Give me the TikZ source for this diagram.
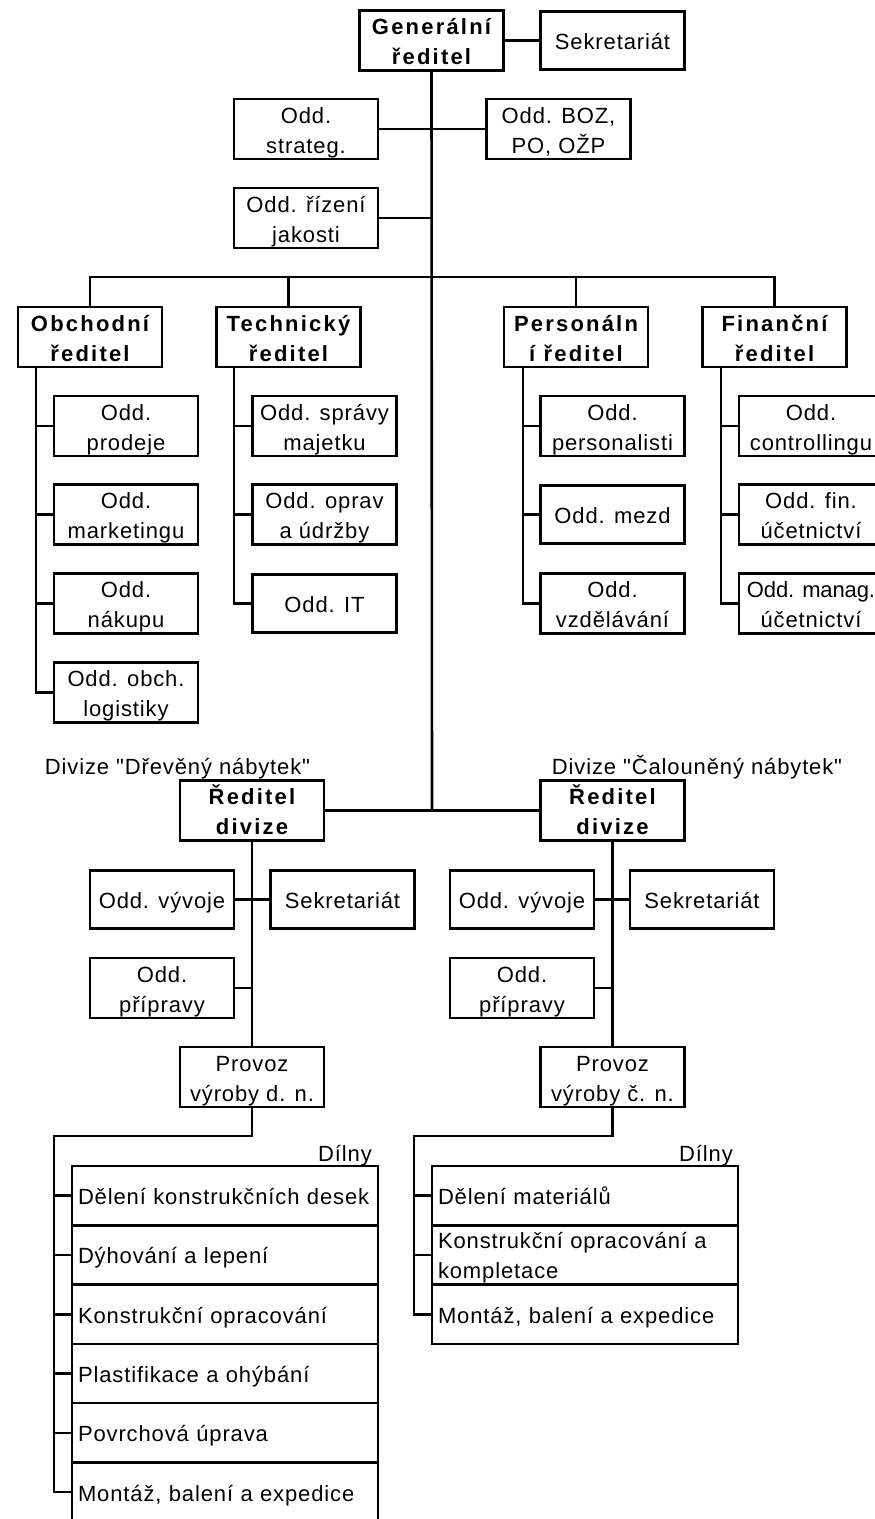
\documentclass[tikz,border=0pt]{standalone}
\usepackage{fontspec}
\setmainfont[LetterSpace=4,Ligatures=TeXOff]{Liberation Sans}
\newfontfamily\bfnt[LetterSpace=10,Ligatures=TeXOff]{Liberation Sans}
\newfontfamily\tightfnt[LetterSpace=-0.5,Ligatures=TeXOff]{Liberation Sans}
\newcommand\st{\rule[-6pt]{0pt}{30pt}}
\newcommand\two[2]{\st #1\\\st #2}
\newcommand\one[1]{\st #1}
\begin{document}
\begin{tikzpicture}[x=1pt,y=-1pt,
  every node/.style={font=\fontsize{22}{30}\selectfont},
  box/.style={draw, line width=2.6pt, inner sep=0pt, align=center,
    minimum width=144, minimum height=58},
  bbox/.style={box, font=\fontsize{22}{30}\selectfont\bfnt\bfseries},
  wbox/.style={draw, line width=2.6pt, inner sep=0pt, align=left,
    minimum width=306, minimum height=59.3, text width=294},
  conn/.style={line width=2.6pt},
  lbl/.style={inner sep=0pt, anchor=base}]
\useasboundingbox (0,0) rectangle (875,1519);
\clip (0,0) rectangle (875,1519);

% top level
\node[bbox] (gr) at (431.5,40.5) {\two{Generální}{ředitel}};
\node[box] (sek) at (612.5,40.5) {\one{Sekretariát}};
\node[box] (strat) at (306,129) {\two{Odd.}{strateg.}};
\node[box] (boz) at (558.5,129) {\two{Odd. BOZ,}{PO, OŽP}};
\node[box] (jak) at (306,218) {\two{Odd. řízení}{jakosti}};

% directors
\node[bbox] (obch) at (90,337) {\two{Obchodní}{ředitel}};
\node[bbox] (tech) at (288.5,337) {\two{Technický}{ředitel}};
\node[bbox] (pers) at (576,337) {\two{Personáln}{í ředitel}};
\node[bbox] (fin) at (774.5,337) {\two{Finanční}{ředitel}};

% departments
\node[box] (o1) at (126,426) {\two{Odd.}{prodeje}};
\node[box] (o2) at (126,514.5) {\two{Odd.}{marketingu}};
\node[box] (o3) at (126,603.5) {\two{Odd.}{nákupu}};
\node[box] (o4) at (126,692.5) {\two{Odd. obch.}{logistiky}};
\node[box] (t1) at (324.5,426) {\two{Odd. správy}{majetku}};
\node[box] (t2) at (324.5,514.5) {\two{Odd. oprav}{a údržby}};
\node[box] (t3) at (324.5,603.5) {\one{Odd. IT}};
\node[box] (p1) at (612.5,426) {\two{Odd.}{personalisti}};
\node[box] (p2) at (612.5,514.5) {\one{Odd. mezd}};
\node[box] (p3) at (612.5,603.5) {\two{Odd.}{vzdělávání}};
\node[box] (f1) at (811,426) {\two{Odd.}{controllingu}};
\node[box] (f2) at (811,514.5) {\two{Odd. fin.}{účetnictví}};
\node[box] (f3) at (811,603.5) {\tightfnt\two{Odd. manag.}{účetnictví}};

% divisions
\node[lbl] (ldl) at (177.5,774) {Divize "Dřevěný nábytek"};
\node[lbl] (ldr) at (697,774) {Divize "Čalouněný nábytek"};
\node[bbox] (divL) at (252,810.5) {\two{Ředitel}{divize}};
\node[bbox] (divR) at (612.5,810.5) {\two{Ředitel}{divize}};
\node[box] (vyvL) at (162,899.5) {\one{Odd. vývoje}};
\node[box] (sekL) at (342.5,899.5) {\one{Sekretariát}};
\node[box] (pripL) at (162,988) {\two{Odd.}{přípravy}};
\node[box] (provL) at (252,1077) {\two{Provoz}{výroby d. n.}};
\node[box] (vyvR) at (522,899.5) {\one{Odd. vývoje}};
\node[box] (sekR) at (702,899.5) {\one{Sekretariát}};
\node[box] (pripR) at (522,988) {\two{Odd.}{přípravy}};
\node[box] (provR) at (612.5,1077) {\two{Provoz}{výroby č. n.}};

% workshops
\node[lbl, anchor=base east] (dl) at (372,1161) {Dílny};
\node[lbl, anchor=base east] (dr) at (733,1161) {Dílny};
\node[wbox] (w1) at (225,1195.6) {\one{Dělení konstrukčních desek}};
\node[wbox] (w2) at (225,1254.9) {\one{Dýhování a lepení}};
\node[wbox] (w3) at (225,1314.2) {\one{Konstrukční opracování}};
\node[wbox] (w4) at (225,1373.5) {\one{Plastifikace a ohýbání}};
\node[wbox] (w5) at (225,1432.8) {\one{Povrchová úprava}};
\node[wbox] (w6) at (225,1492.1) {\one{Montáž, balení a expedice}};
\node[wbox] (v1) at (585,1195.6) {\one{Dělení materiálů}};
\node[wbox] (v2) at (585,1254.9) {\two{Konstrukční opracování a}{kompletace}};
\node[wbox] (v3) at (585,1314.2) {\one{Montáž, balení a expedice}};

% connectors top
\coordinate (j) at (432,810);
\coordinate (bus) at (432,277);
\draw[conn] (gr.south) -- (j);
\draw[conn] (gr.east) -- (sek.west);
\draw[conn] (strat.east) -- (boz.west);
\draw[conn] (jak.east) -- (jak.east -| j);
\draw[conn] (obch.north) |- (bus) -| (fin.north);
\draw[conn] (tech.north) -- (tech.north |- bus);
\draw[conn] (pers.north) -- (pers.north |- bus);

% director subtrees
\coordinate (ot) at (36,367);
\draw[conn] (ot) |- (o4.west);
\foreach \n in {o1,o2,o3} \draw[conn] (\n.west) -- (\n.west -| ot);
\coordinate (tt) at (234,367);
\draw[conn] (tt) |- (t3.west);
\foreach \n in {t1,t2} \draw[conn] (\n.west) -- (\n.west -| tt);
\coordinate (pt) at (523,367);
\draw[conn] (pt) |- (p3.west);
\foreach \n in {p1,p2} \draw[conn] (\n.west) -- (\n.west -| pt);
\coordinate (ft) at (721,367);
\draw[conn] (ft) |- (f3.west);
\foreach \n in {f1,f2} \draw[conn] (\n.west) -- (\n.west -| ft);

% divisions connectors
\draw[conn] (divL.east) -- (divR.west);
\draw[conn] (divL.south) -- (provL.north);
\draw[conn] (vyvL.east) -- (sekL.west);
\draw[conn] (pripL.east) -- (pripL.east -| divL.south);
\draw[conn] (divR.south) -- (provR.north);
\draw[conn] (vyvR.east) -- (sekR.west);
\draw[conn] (pripR.east) -- (pripR.east -| divR.south);

% workshop connectors
\coordinate (lt) at (54,1136);
\draw[conn] (provL.south) |- (lt) |- (w6.west);
\foreach \n in {w1,w2,w3,w4,w5} \draw[conn] (\n.west) -- (\n.west -| lt);
\coordinate (rt) at (414,1136);
\draw[conn] (provR.south) |- (rt) |- (v3.west);
\foreach \n in {v1,v2} \draw[conn] (\n.west) -- (\n.west -| rt);
\end{tikzpicture}
\end{document}
